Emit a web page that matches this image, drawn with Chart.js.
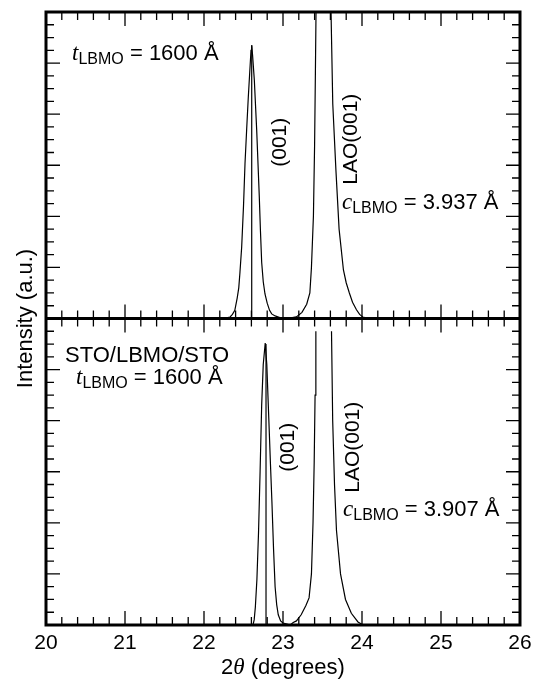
<!DOCTYPE html>
<html>
<head>
<meta charset="utf-8">
<script src="https://cdn.jsdelivr.net/npm/chart.js@4/dist/chart.umd.min.js"></script>
<style>
  html, body { margin: 0; padding: 0; background: #fff; }
  canvas { display: block; }
</style>
</head>
<body>
<canvas id="xrd" width="536" height="684" style="width:536px;height:684px"></canvas>
<script>
// theta-2theta scans, intensity in a.u. (each panel runs 0..6)
const topTheta = [22.20, 22.26, 22.30, 22.33, 22.36, 22.39, 22.42, 22.44, 22.455, 22.477, 22.50, 22.519, 22.54, 22.561, 22.58, 22.595, 22.604, 22.615, 22.637, 22.667, 22.70, 22.715, 22.73, 22.75, 22.772, 22.80, 22.83, 22.857, 22.90, 22.96, 23.00, 23.08, 23.17, 23.24, 23.30, 23.34, 23.36, 23.385, 23.40, 23.41, 23.418, 23.50, 23.608, 23.63, 23.67, 23.71, 23.765, 23.80, 23.84, 23.88, 23.93, 23.97, 24.01, 24.09, 24.20, 24.30];
const topCounts = [0.00, 0.01, 0.02, 0.03, 0.08, 0.16, 0.40, 0.60, 0.90, 1.40, 2.20, 3.03, 3.70, 4.34, 4.85, 5.25, 5.35, 5.15, 4.67, 3.69, 2.38, 1.70, 1.10, 0.72, 0.48, 0.30, 0.16, 0.09, 0.05, 0.02, 0.00, 0.01, 0.03, 0.12, 0.28, 0.50, 1.00, 2.00, 3.40, 4.80, 6.00, null, 6.00, 4.20, 2.90, 1.75, 0.95, 0.70, 0.50, 0.32, 0.17, 0.08, 0.03, 0.00, 0.01, 0.00];

const botTheta = [22.62, 22.635, 22.65, 22.67, 22.69, 22.71, 22.73, 22.75, 22.775, 22.795, 22.82, 22.84, 22.86, 22.88, 22.90, 22.92, 22.94, 22.97, 23.00, 23.05, 23.09, 23.13, 23.17, 23.23, 23.29, 23.33, 23.36, 23.38, 23.395, 23.406, 23.416, 23.50, 23.614, 23.629, 23.652, 23.677, 23.728, 23.791, 23.865, 23.949, 24.013, 24.05];
const botCounts = [0.00, 0.10, 0.35, 0.90, 1.80, 3.00, 4.30, 5.10, 5.52, 5.10, 4.05, 3.20, 2.40, 1.50, 0.75, 0.40, 0.20, 0.08, 0.04, 0.02, 0.00, 0.05, 0.08, 0.20, 0.38, 0.53, 1.00, 2.00, 3.20, 4.50, 5.75, null, 5.75, 4.00, 2.75, 1.85, 1.00, 0.50, 0.23, 0.06, 0.00, 0.00];

// (001) peak position markers: [2theta, top]
const topMarker = [22.604, 5.35];
const botMarker = [22.785, 5.50];

const xTicks = [20, 21, 22, 23, 24, 25, 26];
const xMinorStep = 0.2;
const yMax = 6;
const yMinorStep = 0.25;

const SANS = '"Liberation Sans", Arial, sans-serif';
const SERIF = '"Liberation Serif", "Times New Roman", serif';

function pts(xs, ys) {
  return xs.map((v, i) => ({ x: v, y: ys[i] }));
}

function drawRich(ctx, parts, x, y, align) {
  let w = 0;
  parts.forEach(p => { ctx.font = p.font; w += ctx.measureText(p.t).width; });
  let cx = align === "center" ? x - w / 2 : x;
  parts.forEach(p => {
    ctx.font = p.font;
    ctx.fillText(p.t, cx, y + (p.dy || 0));
    cx += ctx.measureText(p.t).width;
  });
}

function rotText(ctx, txt, x, y) {
  ctx.save();
  ctx.translate(x, y);
  ctx.rotate(-Math.PI / 2);
  ctx.textAlign = "center";
  ctx.textBaseline = "middle";
  ctx.fillText(txt, 0, 0);
  ctx.restore();
}

// keep each scan inside its own panel
const panelClip = {
  id: "panelClip",
  beforeDatasetDraw(chart, args) {
    const ys = chart.scales[args.meta.yAxisID];
    const a = chart.chartArea;
    chart.ctx.save();
    chart.ctx.beginPath();
    chart.ctx.rect(a.left, ys.top, a.right - a.left, ys.bottom - ys.top);
    chart.ctx.clip();
  },
  afterDatasetDraw(chart) {
    chart.ctx.restore();
  }
};

const frame = {
  id: "frame",
  afterDatasetsDraw(chart) {
    const { ctx, chartArea: a } = chart;
    const x = chart.scales.x, yTop = chart.scales.yTop, yBot = chart.scales.yBot;
    ctx.save();
    ctx.strokeStyle = "#000";
    ctx.fillStyle = "#000";

    // tick marks, all pointing inwards
    ctx.lineWidth = 1.3;
    ctx.beginPath();
    const nx = Math.round((x.max - x.min) / xMinorStep);
    for (let i = 1; i < nx; i++) {
      const v = x.min + i * xMinorStep;
      const len = i % 5 === 0 ? 14 : 8;
      const px = x.getPixelForValue(v);
      [[yTop.top, 1], [yTop.bottom, -1], [yBot.top, 1], [yBot.bottom, -1]].forEach(([py, d]) => {
        ctx.moveTo(px, py);
        ctx.lineTo(px, py + d * len);
      });
    }
    const ny = Math.round(yMax / yMinorStep);
    [yTop, yBot].forEach(s => {
      for (let j = 1; j < ny; j++) {
        const py = s.getPixelForValue(j * yMinorStep);
        const len = j % 4 === 0 ? 14 : 8;
        ctx.moveTo(a.left, py); ctx.lineTo(a.left + len, py);
        ctx.moveTo(a.right, py); ctx.lineTo(a.right - len, py);
      }
    });
    ctx.stroke();

    // frame and panel divider
    ctx.lineWidth = 3;
    ctx.strokeRect(a.left, a.top, a.right - a.left, a.bottom - a.top);
    ctx.beginPath();
    ctx.moveTo(a.left, yTop.bottom);
    ctx.lineTo(a.right, yTop.bottom);
    ctx.stroke();

    // tick labels
    ctx.font = "21px " + SANS;
    ctx.textAlign = "center";
    ctx.textBaseline = "alphabetic";
    xTicks.forEach(v => ctx.fillText(String(v), x.getPixelForValue(v), a.bottom + 24));

    // axis titles
    ctx.textAlign = "left";
    drawRich(ctx, [
      { t: "2", font: "22px " + SANS },
      { t: "\u03B8", font: "italic 23px " + SERIF },
      { t: " (degrees)", font: "22px " + SANS }
    ], x.getPixelForValue(23.0), a.bottom + 49, "center");

    ctx.font = "22px " + SANS;
    rotText(ctx, "Intensity (a.u.)", a.left - 20, yTop.bottom);

    // annotations
    const tLine = [
      { t: "t", font: "italic 23px " + SERIF },
      { t: "LBMO", font: "16px " + SANS, dy: 4 },
      { t: " = 1600 \u00C5", font: "22px " + SANS }
    ];
    const cLine = val => [
      { t: "c", font: "italic 23px " + SERIF },
      { t: "LBMO", font: "16px " + SANS, dy: 4 },
      { t: " = " + val + " \u00C5", font: "22px " + SANS }
    ];

    drawRich(ctx, tLine, x.getPixelForValue(20.33), yTop.getPixelForValue(5.06));
    drawRich(ctx, cLine("3.937"), x.getPixelForValue(23.747), yTop.getPixelForValue(2.14));

    ctx.font = "22px " + SANS;
    ctx.fillText("STO/LBMO/STO", x.getPixelForValue(20.24), yBot.getPixelForValue(5.14));
    drawRich(ctx, tLine, x.getPixelForValue(20.38), yBot.getPixelForValue(4.71));
    drawRich(ctx, cLine("3.907"), x.getPixelForValue(23.76), yBot.getPixelForValue(2.13));

    ctx.font = "21px " + SANS;
    rotText(ctx, "(001)", x.getPixelForValue(22.962), yTop.getPixelForValue(3.45));
    rotText(ctx, "LAO(001)", x.getPixelForValue(23.867), yTop.getPixelForValue(3.51));
    rotText(ctx, "(001)", x.getPixelForValue(23.07), yBot.getPixelForValue(3.48));
    rotText(ctx, "LAO(001)", x.getPixelForValue(23.892), yBot.getPixelForValue(3.48));

    ctx.restore();
  }
};

const hiddenAxis = {
  ticks: { display: false },
  grid: { display: false, drawTicks: false },
  border: { display: false }
};

const lineStyle = { borderColor: "#000", borderWidth: 1.2, pointRadius: 0, tension: 0, spanGaps: false };

const chart = new Chart(document.getElementById("xrd"), {
  type: "line",
  data: {
    datasets: [
      { ...lineStyle, data: pts(topTheta, topCounts), yAxisID: "yTop" },
      { ...lineStyle, data: [{ x: topMarker[0], y: 0 }, { x: topMarker[0], y: topMarker[1] }], yAxisID: "yTop" },
      { ...lineStyle, data: pts(botTheta, botCounts), yAxisID: "yBot" },
      { ...lineStyle, data: [{ x: botMarker[0], y: 0 }, { x: botMarker[0], y: botMarker[1] }], yAxisID: "yBot" }
    ]
  },
  options: {
    responsive: false,
    animation: false,
    layout: { padding: { left: 46, top: 12, right: 16, bottom: 59 } },
    plugins: { legend: { display: false }, tooltip: { enabled: false } },
    scales: {
      x: { type: "linear", min: 20, max: 26, ...hiddenAxis },
      yTop: { type: "linear", position: "left", stack: "panels", stackWeight: 1, weight: 2, min: 0, max: yMax, ...hiddenAxis },
      yBot: { type: "linear", position: "left", stack: "panels", stackWeight: 1, weight: 1, min: 0, max: yMax, ...hiddenAxis }
    }
  },
  plugins: [panelClip, frame]
});
</script>
</body>
</html>
